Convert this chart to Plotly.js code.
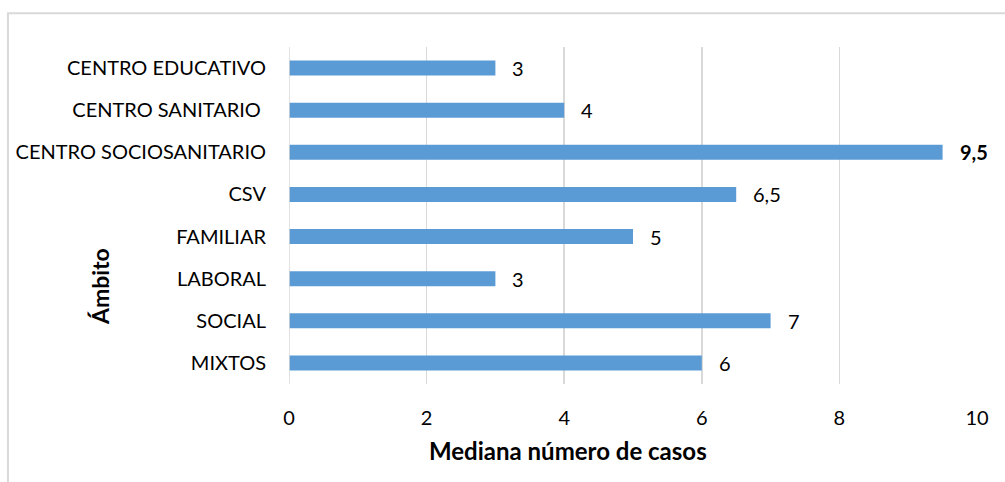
<!DOCTYPE html>
<html><head><meta charset="utf-8">
<script src="https://cdn.plot.ly/plotly-3.0.1.min.js"></script>
<style>html,body{margin:0;padding:0;background:#fff}#c{width:1005px;height:482px}</style>
</head><body><div id="c"></div>
<script>
const categories = ["CENTRO EDUCATIVO","CENTRO SANITARIO ","CENTRO SOCIOSANITARIO","CSV","FAMILIAR","LABORAL","SOCIAL","MIXTOS"];
const values = [3,4,9.5,6.5,5,3,7,6];
const boldLabel = [false,false,true,false,false,false,false,false];
const xTicks = [0,2,4,6,8,10];

const FONT = "Lato, 'Open Sans', sans-serif";
const annotations = categories.map((c,i)=>({
  x: values[i], y: c, xref:'x', yref:'y',
  text: boldLabel[i] ? '<b>'+String(values[i]).replace('.',',')+'</b>' : String(values[i]).replace('.',','),
  showarrow:false, xanchor:'left', yanchor:'middle', xshift:15,
  font:{family:FONT,size:20,color:'#000'}
}));
annotations.push({text:'<b>Ámbito</b>', xref:'paper', yref:'paper', x:-0.275, y:0.29, textangle:-90,
  showarrow:false, xanchor:'center', yanchor:'middle', font:{family:FONT,size:23,color:'#000'}});
annotations.push({text:'<b>Mediana número de casos</b>', xref:'paper', yref:'paper', x:0.4055, y:-0.196,
  showarrow:false, xanchor:'center', yanchor:'middle', font:{family:FONT,size:24,color:'#000'}});

Plotly.newPlot('c',[{
  type:'bar', orientation:'h', x:values, y:categories,
  marker:{color:'#5b9bd5'}, hoverinfo:'skip'
}],{
  width:1005,height:482,
  margin:{l:289,r:28,t:47,b:98},
  paper_bgcolor:'#fff',plot_bgcolor:'#fff',
  bargap:0.645,
  separators:',.',
  showlegend:false,
  xaxis:{range:[0,10],tickvals:xTicks,showgrid:true,gridcolor:'#d9d9d9',gridwidth:1.5,
    zeroline:false,showline:false,ticks:'',ticklabelstandoff:20,
    tickfont:{family:FONT,size:20,color:'#000'}},
  yaxis:{autorange:'reversed',showgrid:false,zeroline:false,showline:false,ticks:'',
    tickfont:{family:FONT,size:20,color:'#000'},ticklabelstandoff:22},
  shapes:[
    {type:'line',xref:'x',yref:'paper',x0:0,x1:0,y0:0,y1:1,line:{color:'#d9d9d9',width:1.5}},
    {type:'rect',xref:'paper',yref:'paper',x0:-0.4085,x1:1.2,y0:-0.5,y1:1.1,line:{color:'#d9d9d9',width:2},fillcolor:'rgba(0,0,0,0)',layer:'below'}
  ],
  annotations:annotations
},{staticPlot:true});
</script></body></html>
